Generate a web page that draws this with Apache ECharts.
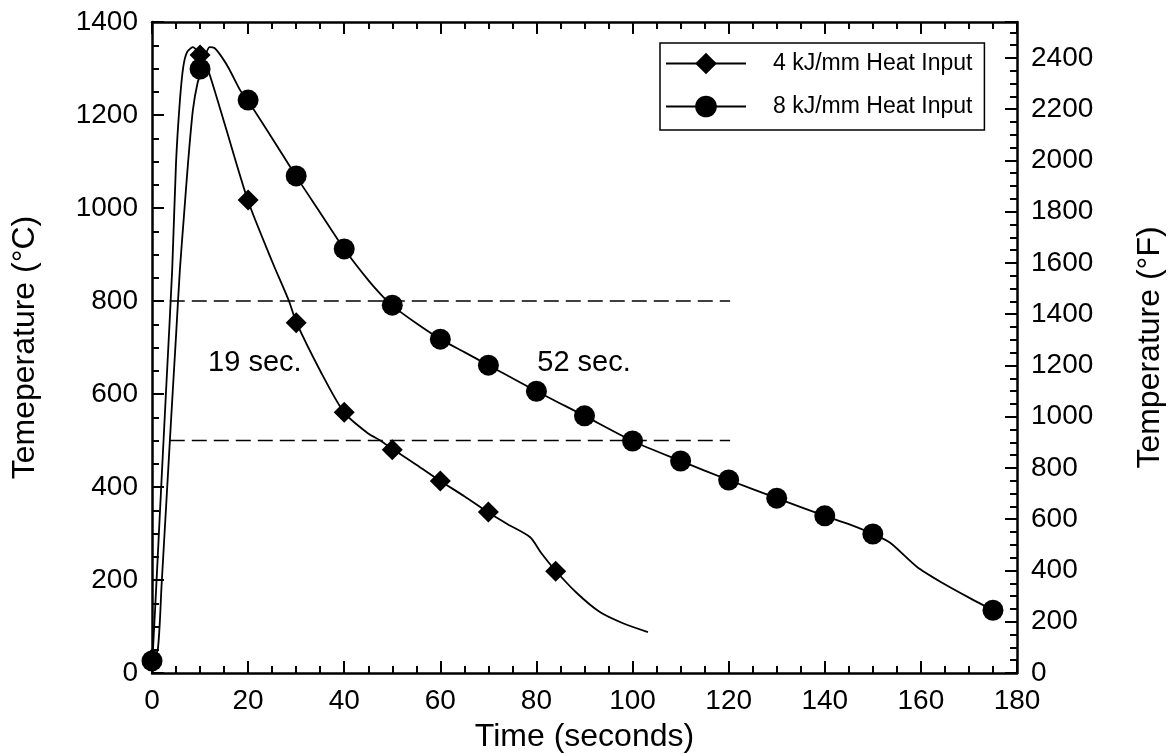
<!DOCTYPE html>
<html lang="en">
<head>
    <meta charset="UTF-8">
    <title>Heat input cooling curves</title>
    <script src="https://cdn.jsdelivr.net/npm/echarts@6/dist/echarts.min.js"></script>
    <style>
        html, body {
            margin: 0;
            padding: 0;
            background: #fff;
        }

        #chart {
            width: 1172px;
            height: 754px;
        }
    </style>
</head>
<body>
    <div id="chart"></div>

    <script>
        // thermocouple traces, [time s, temperature °C]
        var curve4 = [[0, 30], [0.2, 50], [1, 210], [2, 418], [3, 622], [4.2, 867], [5, 1097], [5.8, 1230],
            [6.5, 1303], [7.3, 1335], [8.5, 1346], [9.4, 1338], [10.2, 1325], [11.5, 1302], [15, 1185],
            [20, 1015], [25, 885], [28.5, 800], [30, 755], [35, 650], [40, 560], [45, 515], [47.5, 500],
            [50, 482], [55, 448], [60, 413], [65, 380], [70, 345], [74, 320], [78.7, 292], [81, 258],
            [83.9, 221], [88.4, 172], [93.2, 131], [98, 107], [103.2, 88]];
        var curve8 = [[0, 26], [1.2, 50], [2, 190], [3, 370], [4, 550], [5, 725], [5.8, 867], [6.7, 990],
            [7.5, 1097], [8.5, 1210], [9.5, 1270], [10.4, 1297], [11, 1325], [12, 1346], [13, 1344],
            [14.5, 1325], [16, 1300], [18.3, 1254], [20, 1230], [25, 1150], [30, 1068], [35, 990],
            [40, 912], [45, 845], [48, 810], [50, 790], [55, 752], [60, 718], [65, 690], [70, 662],
            [80, 606], [90, 553], [100, 499], [110, 456], [120, 415], [130, 376], [140, 338], [145, 320],
            [150, 299], [153.6, 280], [159.2, 228], [164.6, 193], [170.2, 161], [175, 135]];

        // measured points (markers)
        var points4 = [[0, 30], [10, 1329], [20, 1017], [30, 753], [40, 561], [50, 480], [60, 413], [70, 346], [84, 219]];
        var points8 = [[0, 26], [10, 1299], [20, 1232], [30, 1069], [40, 912], [50, 791], [60, 718], [70, 662],
            [80, 606], [90, 553], [100, 499], [110, 456], [120, 415], [130, 376], [140, 338], [150, 299], [175, 135]];

        // 800 and 500 °C reference lines, t8/5 notes
        var refLevels = [800, 500];
        var refSpan = [3.7, 120.3];
        var notes = [[21.4, 667, '19 sec.'], [89.9, 667, '52 sec.']];

        var seriesNames = ['4 kJ/mm Heat Input', '8 kJ/mm Heat Input'];

        var font = "'Liberation Sans', Arial, sans-serif";
        var black = '#000';
        var tickFont = 28;
        var nameFont = 32;

        function plain(v) { return String(v); }

        function axisStyle(extra) {
            var base = {
                axisLine: { show: true, onZero: false, lineStyle: { color: black, width: 2.5 } },
                axisTick: { show: true, inside: true, length: 12, lineStyle: { color: black, width: 2 } },
                minorTick: { show: true, splitNumber: 4, length: 7, lineStyle: { color: black, width: 2 } },
                splitLine: { show: false },
                minorSplitLine: { show: false },
                nameTextStyle: { color: black, fontFamily: font, fontSize: nameFont }
            };
            for (var k in extra) base[k] = extra[k];
            return base;
        }

        var chart = echarts.init(document.getElementById('chart'));

        var series = [];
        refLevels.forEach(function (lv) {
            series.push({
                type: 'line',
                data: [[refSpan[0], lv], [refSpan[1], lv]],
                symbol: 'none',
                silent: true,
                lineStyle: { color: black, width: 1.6, type: [15, 7] }
            });
        });
        series.push({
            name: seriesNames[0],
            type: 'line',
            data: curve4,
            symbol: 'diamond',
            showSymbol: false,
            smooth: 0.25,
            lineStyle: { color: black, width: 1.8 },
            itemStyle: { color: black },
            z: 3
        });
        series.push({
            name: seriesNames[1],
            type: 'line',
            data: curve8,
            symbol: 'circle',
            showSymbol: false,
            smooth: 0.25,
            lineStyle: { color: black, width: 1.8 },
            itemStyle: { color: black },
            z: 3
        });
        series.push({
            type: 'scatter',
            data: points4,
            symbol: 'diamond',
            symbolSize: 21,
            itemStyle: { color: black, opacity: 1 },
            z: 4
        });
        series.push({
            type: 'scatter',
            data: points8,
            symbol: 'circle',
            symbolSize: 21,
            itemStyle: { color: black, opacity: 1 },
            z: 5
        });
        series.push({
            type: 'scatter',
            data: notes,
            symbolSize: 0,
            silent: true,
            itemStyle: { color: black, opacity: 1 },
            label: {
                show: true,
                position: 'inside',
                formatter: function (p) { return p.data[2]; },
                color: black,
                opacity: 1,
                fontFamily: font,
                fontSize: 29
            }
        });

        chart.setOption({
            backgroundColor: '#fff',
            animation: false,
            grid: {
                left: 152,
                right: 155,
                top: 22,
                bottom: 81,
                containLabel: false,
                outerBoundsMode: 'none'
            },
            legend: {
                data: seriesNames,
                orient: 'vertical',
                left: 660,
                top: 43,
                itemWidth: 80,
                itemHeight: 27,
                itemGap: 20,
                padding: [9, 12, 12, 5],
                borderColor: black,
                borderWidth: 1.5,
                selectedMode: false,
                textStyle: { color: black, fontFamily: font, fontSize: 23, padding: [0, 0, 0, 22] }
            },
            xAxis: [
                axisStyle({
                    type: 'value',
                    position: 'bottom',
                    min: 0,
                    max: 180,
                    interval: 20,
                    name: 'Time (seconds)',
                    nameLocation: 'middle',
                    nameGap: 48,
                    axisLabel: { color: black, fontFamily: font, fontSize: tickFont, margin: 14, formatter: plain }
                }),
                axisStyle({
                    type: 'value',
                    position: 'top',
                    min: 0,
                    max: 180,
                    interval: 20,
                    axisLabel: { show: false }
                })
            ],
            yAxis: [
                axisStyle({
                    type: 'value',
                    position: 'left',
                    min: 0,
                    max: 1400,
                    interval: 200,
                    name: 'Temeperature (°C)',
                    nameLocation: 'middle',
                    nameRotate: 90,
                    nameGap: 111,
                    axisLabel: { color: black, fontFamily: font, fontSize: tickFont, margin: 14, formatter: plain }
                }),
                axisStyle({
                    type: 'value',
                    position: 'right',
                    min: 0,
                    max: 2540,
                    interval: 200,
                    name: 'Temperature (°F)',
                    nameLocation: 'middle',
                    nameRotate: 90,
                    nameGap: 117,
                    axisLabel: { color: black, fontFamily: font, fontSize: tickFont, margin: 14, showMaxLabel: false, formatter: plain }
                })
            ],
            series: series
        });
    </script>
</body>
</html>
